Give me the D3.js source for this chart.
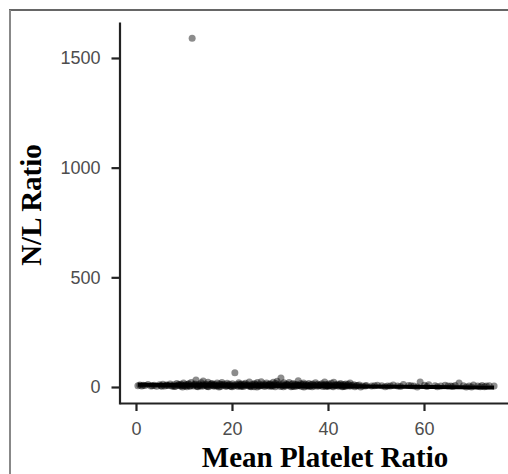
<!DOCTYPE html>
<html>
<head>
	<meta charset="utf-8">
	<title>N/L Ratio vs Mean Platelet Ratio</title>
	<script src="https://cdn.jsdelivr.net/npm/d3@7"></script>
	<style type="text/css">
		body {
			margin: 0;
			background-color: #ffffff;
		}
		.tick text {
			font-family: "Liberation Sans", Arial, sans-serif;
			font-size: 18px;
			fill: #4d4d4d;
		}
		.axisTitle {
			font-family: "Liberation Serif", "Times New Roman", serif;
			font-size: 29px;
			font-weight: bold;
			fill: #000000;
			text-anchor: middle;
		}
	</style>
</head>
<body>
	<div id="chart"></div>
	<script>
// --- data --- //
var ratio = [
	0.4, 0.8, 1.2, 1.9, 2.5, 3.1, 3.8, 4.3, 4.9, 5.2,
	5.6, 6.0, 6.3, 6.8, 7.1, 7.4, 7.9, 8.2, 8.5, 8.8,
	9.1, 9.3, 9.6, 9.9, 10.2, 10.4, 10.7, 11.0, 11.3, 11.5,
	11.7, 12.0, 12.3, 12.5, 12.8, 13.1, 13.3, 13.6, 13.9, 14.0,
	14.2, 14.5, 14.8, 15.0, 15.3, 15.6, 15.8, 16.1, 16.3, 16.6,
	16.9, 17.1, 17.4, 17.7, 17.9, 18.2, 18.4, 18.7, 19.0, 19.2,
	19.5, 19.8, 20.1, 20.3, 20.6, 20.9, 21.1, 21.4, 21.7, 22.0,
	22.2, 22.5, 22.8, 23.1, 23.3, 23.6, 23.9, 24.2, 24.4, 24.7,
	25.0, 25.3, 25.5, 25.8, 26.1, 26.4, 26.6, 26.9, 27.2, 27.5,
	27.7, 28.0, 28.3, 28.6, 28.8, 29.1, 29.4, 29.7, 29.9, 30.2,
	30.5, 30.8, 31.0, 31.3, 31.6, 31.9, 32.1, 32.4, 32.7, 33.0,
	33.2, 33.5, 33.8, 34.1, 34.3, 34.6, 34.9, 35.2, 35.4, 35.7,
	36.0, 36.3, 36.5, 36.8, 37.1, 37.4, 37.6, 37.9, 38.2, 38.5,
	38.7, 39.0, 39.3, 39.6, 39.8, 40.1, 40.4, 40.7, 40.9, 41.2,
	41.5, 41.8, 42.0, 42.3, 42.6, 42.9, 43.1, 43.4, 43.7, 44.0,
	44.2, 44.6, 45.0, 45.4, 45.9, 46.5, 47.2, 48.0, 49.1, 50.3,
	51.2, 52.4, 53.6, 54.5, 55.7, 56.8, 57.9, 59.2, 60.1, 61.0,
	62.3, 63.5, 64.4, 65.6, 66.5, 67.3, 68.2, 69.4, 70.3, 71.2,
	72.1, 73.0, 73.6, 74.6,
	5.4, 6.5, 7.7, 8.9, 10.0, 11.2, 12.2, 13.4, 14.6, 15.7,
	16.8, 18.0, 19.1, 20.4, 21.5, 22.7, 23.8, 24.9, 26.0, 27.1,
	28.2, 29.3, 30.4, 31.5, 32.6, 33.7, 34.8, 35.9, 37.0, 38.1,
	39.2, 40.3, 41.4, 42.5, 43.6, 44.8, 10.9, 16.0, 21.9, 27.9,
	33.9, 39.9, 1.5, 3.4, 46.1, 47.8, 49.7, 53.0, 57.3, 65.0,
	8.0, 9.4, 10.6, 11.9, 12.7, 13.8, 15.1, 16.4, 17.6, 18.9,
	20.0, 21.2, 22.4, 23.5, 24.6, 25.7, 26.8, 27.9, 29.0, 30.1,
	31.2, 32.3, 33.4, 34.5, 35.6, 36.7, 37.8, 38.9, 40.0, 41.1,
	42.2, 43.3, 44.4, 45.6, 14.9, 19.7, 24.0, 28.5, 32.9, 36.2,
	9.7, 12.9, 17.3, 21.8, 25.2, 30.7, 35.0, 39.5, 43.0, 46.8,
	51.9, 55.1, 58.6, 62.8, 66.0, 69.9, 72.6, 60.6, 68.8, 71.7
];
var nlRatio = [
	6, 9, 4, 7, 11, 5, 8, 3, 10, 6,
	12, 4, 9, 7, 14, 5, 10, 3, 16, 8,
	6, 13, 9, 18, 4, 11, 7, 15, 5, 20,
	1590, 9, 14, 32, 6, 12, 8, 19, 10, 27,
	7, 13, 5, 22, 11, 8, 16, 4, 12, 9,
	18, 6, 14, 10, 21, 7, 12, 3, 17, 9,
	13, 5, 15, 8, 65, 11, 6, 19, 9, 14,
	4, 12, 17, 7, 10, 23, 6, 13, 9, 16,
	8, 20, 5, 11, 24, 7, 14, 9, 18, 6,
	12, 15, 8, 22, 10, 17, 26, 9, 13, 41,
	11, 19, 7, 14, 9, 21, 6, 12, 16, 8,
	13, 10, 29, 7, 15, 9, 18, 5, 12, 8,
	16, 6, 11, 14, 4, 19, 9, 13, 7, 10,
	15, 8, 23, 11, 6, 14, 9, 17, 5, 22,
	10, 7, 13, 8, 16, 5, 11, 9, 14, 6,
	12, 18, 8, 10, 6, 9, 4, 7, 5, 8,
	6, 4, 9, 5, 11, 7, 5, 23, 8, 10,
	6, 5, 8, 4, 7, 18, 6, 5, 9, 4,
	7, 5, 6, 5,
	3, 8, 5, 11, 7, 4, 10, 6, 9, 14,
	5, 10, 7, 4, 12, 9, 3, 11, 6, 8,
	4, 9, 6, 10, 3, 7, 11, 5, 8, 6,
	9, 4, 7, 10, 3, 5, 13, 8, 6, 10,
	7, 5, 8, 6, 7, 5, 6, 4, 6, 5,
	2, 5, 1, 4, 2, 3, 1, 5, 2, 4,
	1, 3, 2, 5, 1, 4, 2, 3, 1, 2,
	4, 1, 3, 2, 5, 1, 3, 2, 4, 1,
	3, 2, 4, 1, 2, 3, 1, 4, 2, 3,
	0, 1, 0, 2, 0, 1, 0, 2, 1, 0,
	1, 2, 0, 1, 2, 0, 1, 2, 0, 1
];

// fitted line with its confidence band
var fitX    = [0.4, 20, 37, 55, 74.6];
var fitY    = [10, 7, 4.5, 1.5, -2];
var fitLow  = [4, 3, 1.5, -4, -13];
var fitHigh = [16, 11, 7.5, 7, 9];

var xTicks = [0, 20, 40, 60];
var yTicks = [0, 500, 1000, 1500];

var xTitle = "Mean Platelet Ratio";
var yTitle = "N/L Ratio";

// --- drawing --- //
var width  = 508;
var height = 474;

var svg = d3.select("#chart")
	.append("svg")
		.attr("width",  width)
		.attr("height", height);

// frame around the figure
svg.append("line")
	.attr("x1", 9).attr("y1", 10).attr("x2", width).attr("y2", 10)
	.attr("stroke", "#333").attr("stroke-width", 1.5);
svg.append("line")
	.attr("x1", 10).attr("y1", 10).attr("x2", 10).attr("y2", height)
	.attr("stroke", "#888").attr("stroke-width", 2);

var x = d3.scaleLinear().domain([-3.33, 77.5]).range([120, 508]);
var y = d3.scaleLinear().domain([-77.5, 1664]).range([404, 22]);

var points = ratio.map(function(v, i) { return {x: v, y: nlRatio[i]}; });

svg.append("g")
	.selectAll("circle")
	.data(points)
	.enter().append("circle")
		.attr("cx", function(d) { return x(d.x); })
		.attr("cy", function(d) { return y(d.y); })
		.attr("r", 3.5)
		.attr("fill", "#000")
		.attr("fill-opacity", 0.45);

var fit = fitX.map(function(v, i) {
	return {x: v, y: fitY[i], lo: fitLow[i], hi: fitHigh[i]};
});

svg.append("path")
	.datum(fit)
	.attr("fill", "#999")
	.attr("fill-opacity", 0.4)
	.attr("d", d3.area()
		.curve(d3.curveMonotoneX)
		.x(function(d) { return x(d.x); })
		.y0(function(d) { return y(d.lo); })
		.y1(function(d) { return y(d.hi); }));

svg.append("path")
	.datum(fit)
	.attr("fill", "none")
	.attr("stroke", "#000")
	.attr("stroke-width", 4)
	.attr("d", d3.line()
		.curve(d3.curveMonotoneX)
		.x(function(d) { return x(d.x); })
		.y(function(d) { return y(d.y); }));

// axes
var xAxis = svg.append("g")
	.attr("transform", "translate(0,403)")
	.call(d3.axisBottom(x).tickValues(xTicks).tickFormat(d3.format("d"))
		.tickSize(8).tickSizeOuter(0).tickPadding(11));

var yAxis = svg.append("g")
	.attr("transform", "translate(119.5,0)")
	.call(d3.axisLeft(y).tickValues(yTicks).tickFormat(d3.format("d"))
		.tickSize(8).tickSizeOuter(0).tickPadding(11));

[xAxis, yAxis].forEach(function(a) {
	a.select(".domain").attr("stroke", "#222").attr("stroke-width", 2.2);
	a.selectAll(".tick line").attr("stroke", "#222").attr("stroke-width", 2.2);
});

svg.append("text")
	.attr("class", "axisTitle")
	.attr("x", 325)
	.attr("y", 467)
	.text(xTitle);

svg.append("text")
	.attr("class", "axisTitle")
	.attr("transform", "translate(41,205) rotate(-90)")
	.text(yTitle);
	</script>
</body>
</html>
